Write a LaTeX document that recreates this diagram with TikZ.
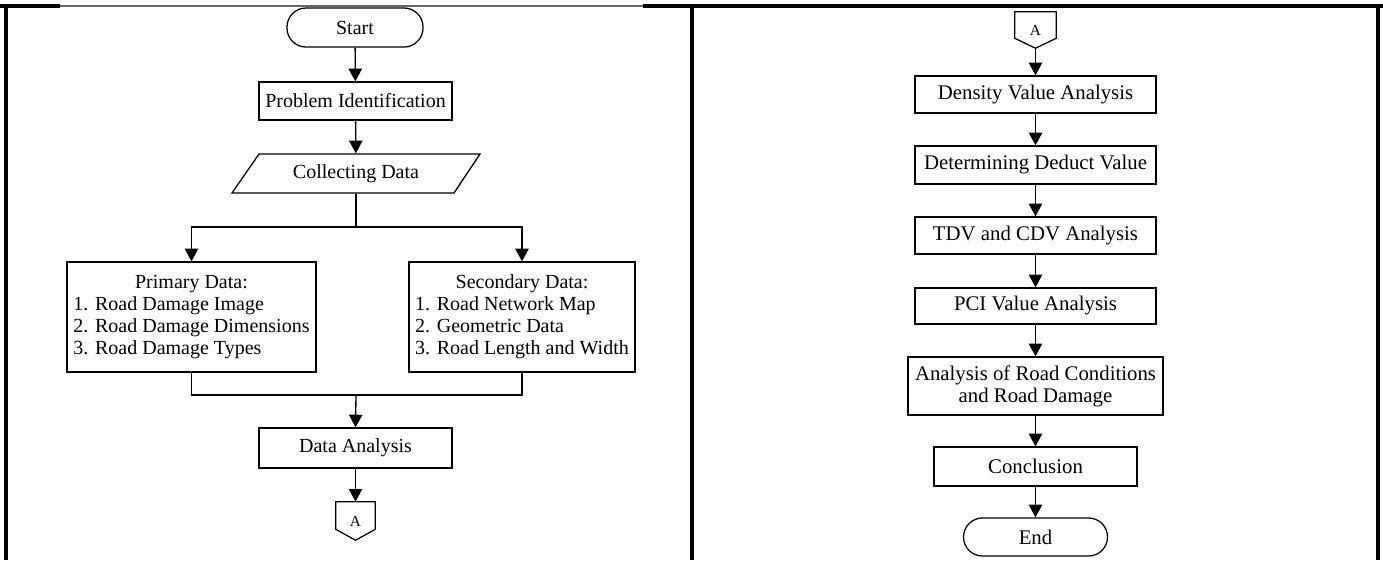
\documentclass[tikz,border=0pt]{standalone}
\usepackage{fontspec}
\setmainfont{Liberation Serif}
\usetikzlibrary{arrows.meta,calc}
\begin{document}
\begin{tikzpicture}[x=0.75pt,y=-0.75pt,
  box/.style={draw,line width=0.95pt,inner sep=2pt,align=center,font=\fontsize{15}{16.5}\selectfont},
  rbox/.style={box,font=\fontsize{15.6}{16.5}\selectfont},
  pill/.style={box,rounded corners=14.2pt},
  conn/.style={inner sep=0pt,font=\fontsize{11.5}{13}\selectfont},
  outl/.style={line width=0.95pt,line join=miter},
  ln/.style={line width=1pt},
  arr/.style={line width=1pt,-{Triangle[length=9.5pt,width=10pt]}},
  frame/.style={line width=2.4pt}]
\useasboundingbox (0,0) rectangle (1383,560);
% table frame
\draw[frame] (0,6) -- (60,6);
\draw[line width=0.8pt,black!60] (60,6) -- (643,6);
\draw[frame] (643,6) -- (1383,6);
\draw[frame] (6,5) -- (6,560);
\draw[frame] (692,5) -- (692,560);
\draw[frame] (1378,5) -- (1378,560);
% left flow
\node[pill,minimum width=102pt,minimum height=29.25pt] (start) at (355,27.5) {Start};
\node[box,minimum width=144.75pt,minimum height=28.5pt] (prob) at (355.5,101) {Problem Identification};
\node[box,draw=none,minimum width=165.75pt,minimum height=29.25pt] (coll) at (356,173.5) {Collecting Data};
\draw[outl] (232,193) -- (259,154) -- (480,154) -- (454,193) -- cycle;
\node[box,minimum width=186.75pt,minimum height=82.5pt] (prim) at (191.5,317)
  {\begin{tabular}{@{}l@{}}\multicolumn{1}{@{}c@{}}{Primary Data:}\\1. Road Damage Image\\2. Road Damage Dimensions\\3. Road Damage Types\end{tabular}};
\node[box,minimum width=169.5pt,minimum height=82.5pt] (sec) at (522,317)
  {\begin{tabular}{@{}l@{}}\multicolumn{1}{@{}c@{}}{Secondary Data:}\\1. Road Network Map\\2. Geometric Data\\3. Road Length and Width\end{tabular}};
\node[box,minimum width=144.75pt,minimum height=30pt] (da) at (355.5,448) {Data Analysis};
\node[conn,minimum width=29.25pt,minimum height=28.5pt] (ca1) at (355.5,521) {A};
\draw[outl] (ca1.north west) -- (ca1.north east) -- ($(ca1.south east)+(0,-11)$) -- (ca1.south) -- ($(ca1.south west)+(0,-11)$) -- cycle;
\coordinate (b1) at (356,227);
\coordinate (m1) at (356,395);
\draw[arr] (start) -- (prob);
\draw[arr] (prob) -- (coll);
\draw[ln] (coll.south) -- (b1);
\draw[arr] (b1) -| (prim.north);
\draw[arr] (b1) -| (sec.north);
\draw[ln] (prim.south) |- (m1) -| (sec.south);
\draw[arr] (m1) -- (da.north);
\draw[arr] (da) -- (ca1.north);
% right flow
\node[conn,minimum width=30.75pt,minimum height=27pt] (ca2) at (1035.5,30) {A};
\draw[outl] (ca2.north west) -- (ca2.north east) -- ($(ca2.south east)+(0,-10)$) -- (ca2.south) -- ($(ca2.south west)+(0,-10)$) -- cycle;
\node[rbox,minimum width=180.75pt,minimum height=27.75pt] (dens) at (1035.5,94.5) {Density Value Analysis};
\node[rbox,minimum width=180.75pt,minimum height=28.5pt] (det) at (1035.5,165) {Determining Deduct Value};
\node[rbox,minimum width=180.75pt,minimum height=27.75pt] (tdv) at (1035.5,235.5) {TDV and CDV Analysis};
\node[rbox,minimum width=180.75pt,minimum height=27pt] (pci) at (1035.5,306) {PCI Value Analysis};
\node[rbox,minimum width=191.25pt,minimum height=43.5pt] (anal) at (1035.5,386) {Analysis of Road Conditions\\and Road Damage};
\node[rbox,minimum width=152.25pt,minimum height=29.25pt] (concl) at (1035.5,466.5) {Conclusion};
\node[pill,font=\fontsize{15.6}{16.5}\selectfont,minimum width=108pt,minimum height=28.5pt] (end) at (1035.5,537) {End};
\draw[arr] (ca2.south) -- (dens);
\draw[arr] (dens) -- (det);
\draw[arr] (det) -- (tdv);
\draw[arr] (tdv) -- (pci);
\draw[arr] (pci) -- (anal);
\draw[arr] (anal) -- (concl);
\draw[arr] (concl) -- (end);
\end{tikzpicture}
\end{document}
